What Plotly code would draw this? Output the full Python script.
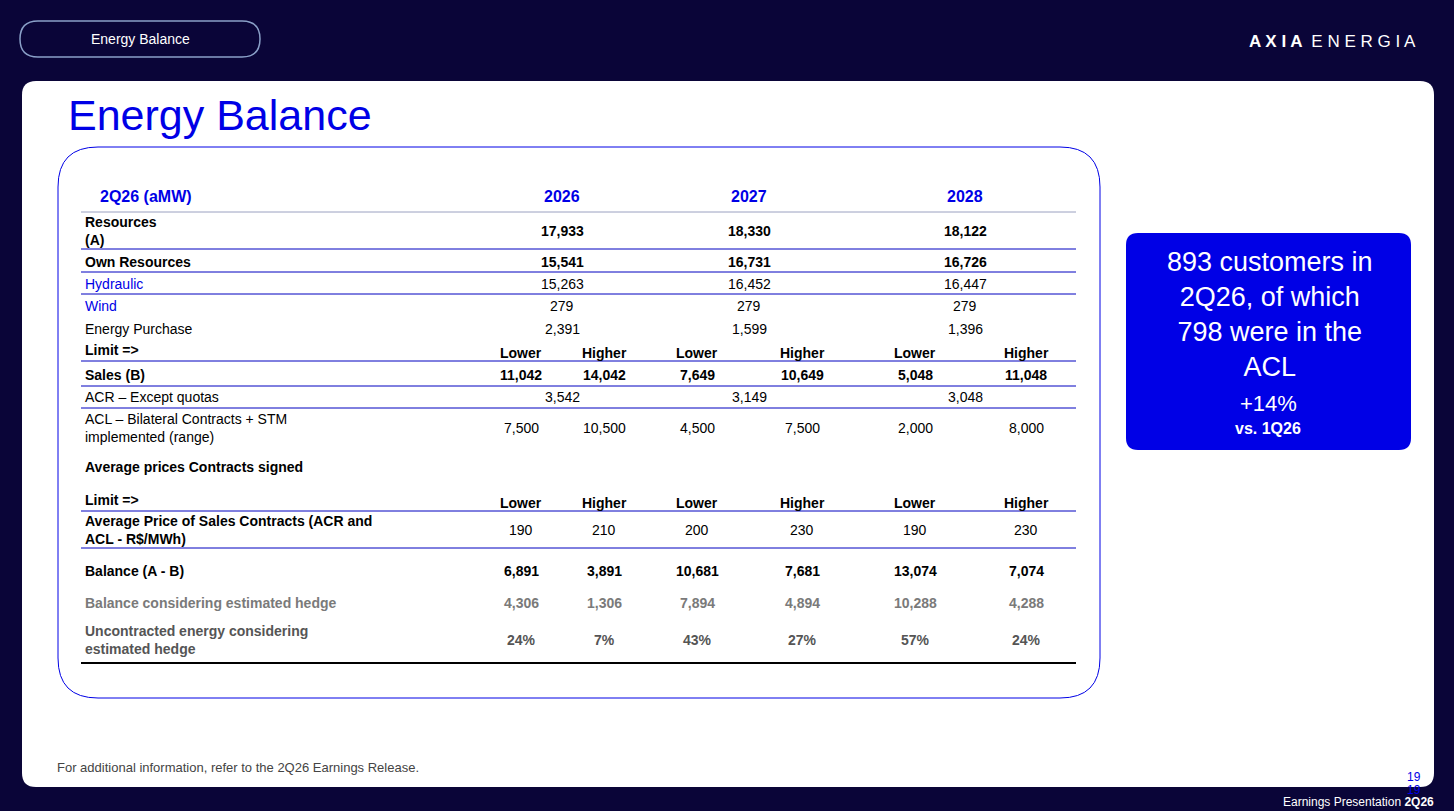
import plotly.graph_objects as go

years = ["2026", "2027", "2028"]
resources = ["17,933", "18,330", "18,122"]
own_resources = ["15,541", "16,731", "16,726"]
hydraulic = ["15,263", "16,452", "16,447"]
wind = ["279", "279", "279"]
energy_purchase = ["2,391", "1,599", "1,396"]
limits = ["Lower", "Higher"] * 3
sales = ["11,042", "14,042", "7,649", "10,649", "5,048", "11,048"]
acr = ["3,542", "3,149", "3,048"]
acl = ["7,500", "10,500", "4,500", "7,500", "2,000", "8,000"]
avg_price = ["190", "210", "200", "230", "190", "230"]
balance = ["6,891", "3,891", "10,681", "7,681", "13,074", "7,074"]
balance_hedge = ["4,306", "1,306", "7,894", "4,894", "10,288", "4,288"]
uncontracted = ["24%", "7%", "43%", "27%", "57%", "24%"]

W, H = 1454, 811
BG = "#0a0538"
BLUE = "#0000e6"
FONT = "Liberation Sans, Arial"
fig = go.Figure()
shapes, ann = [], []

def rrect(x0, y0, x1, y1, r, **kw):
    p = (f"M{x0+r},{y0} L{x1-r},{y0} Q{x1},{y0} {x1},{y0+r} L{x1},{y1-r} Q{x1},{y1} {x1-r},{y1} "
         f"L{x0+r},{y1} Q{x0},{y1} {x0},{y1-r} L{x0},{y0+r} Q{x0},{y0} {x0+r},{y0} Z")
    shapes.append(dict(type="path", path=p, xref="x", yref="y", layer="below", **kw))

def txt(x, y, s, size=14, color="#000", bold=False, anchor="center", **kw):
    ann.append(dict(x=x, y=y, xref="x", yref="y", text=f"<b>{s}</b>" if bold else s, showarrow=False,
                    xanchor=anchor, yanchor="middle", align=anchor if anchor != "right" else "right",
                    font=dict(family=FONT, size=size, color=color), **kw))

def hline(y, w=1, color="#0000c0", x0=81, x1=1076):
    shapes.append(dict(type="line", x0=x0, x1=x1, y0=y, y1=y, xref="x", yref="y", line=dict(color=color, width=w)))

rrect(22, 81, 1434, 787, 14, fillcolor="white", line=dict(width=0))
rrect(20, 21, 260, 57, 18, fillcolor=BG, line=dict(color="#8aa0c8", width=1.5))
txt(140, 39, "Energy Balance", 14, "white")
txt(1418, 41, "A X I A  <span style='font-weight:normal'>E N E R G I A</span>", 17, "white", True, "right")
txt(66, 115, "Energy Balance", 43, BLUE, anchor="left")
rrect(58, 147, 1100, 698, 40, fillcolor="rgba(0,0,0,0)", line=dict(color=BLUE, width=1))
rrect(1126, 233, 1411, 450, 12, fillcolor=BLUE, line=dict(width=0))
txt(1270, 314, "893 customers in<br>2Q26, of which<br>798 were in the<br>ACL", 27, "white")
txt(1268, 403, "+14%", 22, "white")
txt(1268, 428, "vs. 1Q26", 16, "white", True)
txt(55, 767, "For additional information, refer to the 2Q26 Earnings Release.", 13, "#444", anchor="left")
txt(1414, 777, "19", 12, BLUE)
txt(1414, 790, "19", 12, BLUE)
txt(1436, 802, "Earnings Presentation <b>2Q26</b>", 12, "white", anchor="right")

ycent = [562, 749, 965]
xcols = [521, 604, 697, 802, 915, 1026]
LX = 83
txt(98, 196, "2Q26 (aMW)", 16, BLUE, True, "left")
for x, yv in zip(ycent, years):
    txt(x, 196, yv, 16, BLUE, True)
hline(212, 1, "#9aa0c0")

def row3(y, label, vals, bold=False, color="#000", lcolor=None):
    txt(LX, y, label, 14, lcolor or color, bold, "left")
    for x, v in zip(ycent, vals):
        txt(x, y, v, 14, color, bold)

def row6(y, label, vals, bold=False, color="#000", lbold=None):
    txt(LX, y, label, 14, color, bold if lbold is None else lbold, "left")
    for x, v in zip(xcols, vals):
        txt(x, y, v, 14, color, bold)

row3(231, "Resources<br>(A)", resources, True)
hline(249)
row3(262, "Own Resources", own_resources, True)
hline(272)
row3(284, "Hydraulic", hydraulic, lcolor=BLUE)
hline(294)
row3(306, "Wind", wind, lcolor=BLUE)
row3(329, "Energy Purchase", energy_purchase)
txt(LX, 350, "Limit =>", 14, bold=True, anchor="left")
for x, v in zip(xcols, limits):
    txt(x, 353, v, 14, bold=True)
hline(361)
row6(375, "Sales (B)", sales, True)
hline(386)
row3(397, "ACR – Except quotas", acr)
hline(408)
row6(428, "ACL – Bilateral Contracts + STM<br>implemented (range)", acl)
txt(LX, 467, "Average prices Contracts signed", 14, bold=True, anchor="left")
txt(LX, 500, "Limit =>", 14, bold=True, anchor="left")
for x, v in zip(xcols, limits):
    txt(x, 503, v, 14, bold=True)
hline(511)
row6(530, "Average Price of Sales Contracts (ACR and<br>ACL - R$/MWh)", avg_price, lbold=True)
hline(548)
row6(571, "Balance (A - B)", balance, True)
row6(603, "Balance considering estimated hedge", balance_hedge, True, "#7a7a7a")
row6(640, "Uncontracted energy considering<br>estimated hedge", uncontracted, True, "#555")
hline(663, 2, "#000")

fig.update_layout(width=W, height=H, margin=dict(l=0, r=0, t=0, b=0), paper_bgcolor=BG, plot_bgcolor=BG,
                  xaxis=dict(range=[0, W], visible=False, fixedrange=True),
                  yaxis=dict(range=[H, 0], visible=False, fixedrange=True),
                  shapes=shapes, annotations=ann, showlegend=False)
fig.write_html("out.html", config={"displayModeBar": False},
               post_script="document.body.style.margin='0';document.body.style.overflow='hidden';document.body.style.background='#0a0538';")
